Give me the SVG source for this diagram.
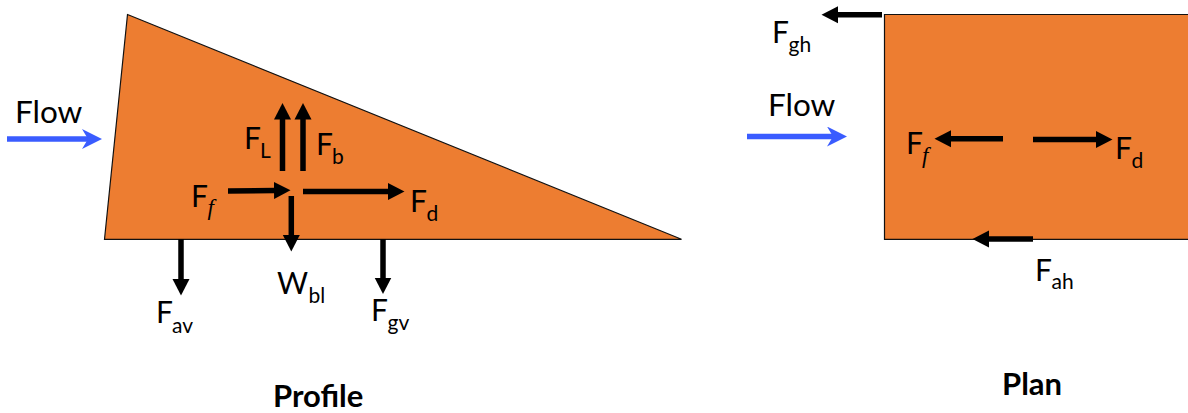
<svg xmlns="http://www.w3.org/2000/svg" width="1188" height="413" viewBox="0 0 1188 413">
<style>
.body{fill:#ed7d31;stroke:#111;stroke-width:1.2}
.f{stroke:#000;stroke-width:5.5;fill:none;marker-end:url(#k)}
.b{stroke:#3a5cff;stroke-width:5.5;fill:none;marker-end:url(#u)}
text{font-family:Lato,"Open Sans",sans-serif;font-size:30px;fill:#000}
.w{font-size:31.500px}
.s{font-size:21px}
.i{font-family:"Liberation Serif",serif;font-style:italic;font-size:23px}
.t{font-weight:700;font-size:31px}
</style>
<defs>
<marker id="k" markerUnits="userSpaceOnUse" markerWidth="18" markerHeight="18" refX="1" refY="8.5" orient="auto" viewBox="0 0 18 17"><path d="M0 0L16.5 8.500L0 17Z" fill="#000"/></marker>
<marker id="u" markerUnits="userSpaceOnUse" markerWidth="20" markerHeight="20" refX="6" refY="10" orient="auto" viewBox="0 0 20 20"><path d="M0 0L20 10L0 20L6 10Z" fill="#3a5cff"/></marker>
</defs>
<g id="profile-body"><path class="body" d="M127.500 14.500L681.500 239.300H104.500Z"/></g>
<g id="plan-body"><path class="body" d="M1190 14.500H884.500V239.300H1190"/></g>
<g id="connectors">
<line class="b" x1="7" y1="139" x2="88" y2="139"/>
<line class="b" x1="747" y1="136.500" x2="833" y2="136.500"/>
<line class="f" x1="282.500" y1="171" x2="282.500" y2="118.500"/>
<line class="f" x1="303" y1="171" x2="303" y2="118.500"/>
<line class="f" x1="228" y1="191" x2="275" y2="190.500"/>
<line class="f" x1="303" y1="191.500" x2="389" y2="191.500"/>
<line class="f" x1="291.300" y1="196" x2="291.300" y2="236"/>
<line class="f" x1="181" y1="239" x2="181" y2="280"/>
<line class="f" x1="383" y1="239" x2="383" y2="278.500"/>
<line class="f" x1="882" y1="14.700" x2="837" y2="14.700"/>
<line class="f" x1="1003" y1="138.700" x2="950" y2="138.700"/>
<line class="f" x1="1033" y1="139.500" x2="1097" y2="139.500"/>
<line class="f" x1="1033" y1="239" x2="988" y2="239"/>
</g>
<g id="labels">
<text class="w" x="15" y="122.700">Flow</text>
<text class="w" x="768" y="116">Flow</text>
<text x="244" y="149.300">F</text><text class="s" x="260" y="157.700">L</text>
<text x="316" y="155">F</text><text class="s" x="332" y="164">b</text>
<text x="191" y="206.700">F</text><text class="i" x="207.500" y="215">f</text>
<text x="410" y="211.700">F</text><text class="s" x="426.500" y="220.700">d</text>
<text x="277" y="294">W</text><text class="s" x="308.500" y="303">bl</text>
<text x="156" y="323">F</text><text class="s" x="172" y="332.700">av</text>
<text x="371" y="321">F</text><text class="s" x="387.500" y="329.500">gv</text>
<text x="772" y="42.700">F</text><text class="s" x="788.500" y="51.700">gh</text>
<text x="906" y="154">F</text><text class="i" x="922" y="163">f</text>
<text x="1115" y="159">F</text><text class="s" x="1131.500" y="168">d</text>
<text x="1035" y="280.700">F</text><text class="s" x="1051.500" y="289">ah</text>
<text class="t" x="273" y="407">Profile</text>
<text class="t" x="1002" y="394.500">Plan</text>
</g>
</svg>
